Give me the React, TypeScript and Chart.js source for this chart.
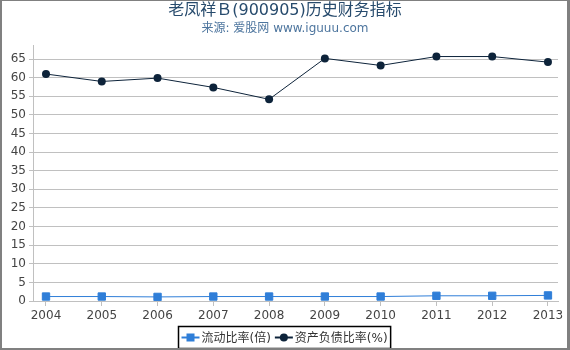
import React, { useEffect, useRef } from 'react';
import { Chart, registerables } from 'chart.js';

Chart.register(...registerables);

const categories = ['2004', '2005', '2006', '2007', '2008', '2009', '2010', '2011', '2012', '2013'];
const currentRatio = [1.2, 1.2, 1.1, 1.2, 1.2, 1.2, 1.2, 1.4, 1.4, 1.5];
const debtRatio = [61.0, 59.0, 59.9, 57.4, 54.2, 65.2, 63.3, 65.7, 65.7, 64.2];
const seriesNames = ['流动比率(倍)', '资产负债比率(%)'];
const seriesColors = ['#2f7ed8', '#0d233a'];
const titleText = '老凤祥Ｂ(900905)历史财务指标';
const subtitleText = '来源: 爱股网 www.iguuu.com';
const yMin = 0;
const yMax = 68.8;
const yStep = 5;

const FONT = '"DejaVu Sans", "Noto Sans CJK SC", sans-serif';

const decorPlugin = {
  id: 'decor',
  afterDraw(chart: any) {
    const ctx = chart.ctx as CanvasRenderingContext2D;
    const W = chart.width;
    const H = chart.height;
    ctx.save();
    // title
    ctx.textAlign = 'center';
    ctx.textBaseline = 'middle';
    ctx.fillStyle = '#274b6d';
    ctx.font = `16px ${FONT}`;
    ctx.fillText(titleText, W / 2, 11);
    ctx.fillStyle = '#4d759e';
    ctx.font = `12px ${FONT}`;
    ctx.fillText(subtitleText, W / 2, 29);

    // legend
    ctx.font = `12px ${FONT}`;
    const symW = 18;
    const symGap = 2;
    const itemGap = 4;
    const padX = 3;
    const widths = seriesNames.map((n) => ctx.measureText(n).width);
    let total = padX * 2;
    widths.forEach((w, i) => {
      total += symW + symGap + w + (i < widths.length - 1 ? itemGap : 0);
    });
    const boxX = Math.round(W / 2 - total / 2 + 0.5) - 0.5;
    const boxY = 326.5;
    const boxH = 22;
    ctx.strokeStyle = '#000';
    ctx.lineWidth = 1.5;
    ctx.strokeRect(boxX, boxY, total, boxH);
    let x = boxX + padX;
    const cy = boxY + boxH / 2;
    seriesNames.forEach((n, i) => {
      ctx.strokeStyle = seriesColors[i];
      ctx.lineWidth = 2;
      ctx.beginPath();
      ctx.moveTo(x, cy);
      ctx.lineTo(x + symW, cy);
      ctx.stroke();
      ctx.fillStyle = seriesColors[i];
      if (i === 0) {
        ctx.fillRect(x + symW / 2 - 4, cy - 4, 8, 8);
      } else {
        ctx.beginPath();
        ctx.arc(x + symW / 2, cy, 4, 0, Math.PI * 2);
        ctx.fill();
      }
      x += symW + symGap;
      ctx.fillStyle = '#333';
      ctx.textAlign = 'left';
      ctx.fillText(n, x, cy + 1);
      x += widths[i] + itemGap;
    });

    // outer border
    ctx.fillStyle = '#808080';
    ctx.fillRect(0, 0, W, 1);
    ctx.fillRect(0, 0, 2, H);
    ctx.fillRect(W - 3, 0, 3, H);
    ctx.fillRect(0, H - 2, W, 2);
    ctx.restore();
  },
};

export default function App() {
  const ref = useRef<HTMLCanvasElement | null>(null);
  useEffect(() => {
    if (!ref.current) return;
    const chart = new Chart(ref.current, {
      type: 'line',
      data: {
        datasets: [
          {
            label: seriesNames[0],
            data: currentRatio.map((v, i) => ({ x: i, y: v })),
            borderColor: seriesColors[0],
            backgroundColor: seriesColors[0],
            borderWidth: 1,
            pointStyle: 'rect',
            pointRadius: 5.2,
            pointBorderWidth: 1,
            tension: 0,
          },
          {
            label: seriesNames[1],
            data: debtRatio.map((v, i) => ({ x: i, y: v })),
            borderColor: seriesColors[1],
            backgroundColor: seriesColors[1],
            borderWidth: 1,
            pointStyle: 'circle',
            pointRadius: 4,
            pointBorderWidth: 0,
            tension: 0,
          },
        ],
      },
      options: {
        animation: false,
        responsive: false,
        devicePixelRatio: 1,
        layout: { padding: { left: 0, right: 12, top: 45, bottom: 0 } },
        plugins: {
          legend: { display: false },
          title: { display: false },
          tooltip: { enabled: false },
        },
        scales: {
          x: {
            type: 'linear',
            min: -0.233,
            max: 9.18,
            afterFit: (s: any) => {
              s.height = 49;
            },
            ticks: {
              stepSize: 1,
              includeBounds: false,
              autoSkip: false,
              maxRotation: 0,
              padding: 3,
              color: '#444',
              font: { family: FONT, size: 12 },
              callback: (v: any) => categories[v] ?? '',
            },
            grid: {
              drawOnChartArea: false,
              drawTicks: true,
              tickLength: 5,
              color: '#c0c0c0',
            },
            border: { display: true, color: '#c0c0c0' },
          },
          y: {
            min: yMin,
            max: yMax,
            afterFit: (s: any) => {
              s.width = 33;
            },
            ticks: {
              stepSize: yStep,
              includeBounds: false,
              padding: 3,
              color: '#444',
              font: { family: FONT, size: 12 },
            },
            grid: {
              color: '#c0c0c0',
              tickLength: 4,
            },
            border: { display: true, color: '#c0c0c0' },
          },
        },
      },
      plugins: [decorPlugin],
    });
    return () => chart.destroy();
  }, []);
  return (
    <div style={{ position: 'fixed', left: 0, top: 0, width: 570, height: 350, background: '#fff' }}>
      <canvas ref={ref} width={570} height={350} style={{ width: 570, height: 350, display: 'block' }} />
    </div>
  );
}
